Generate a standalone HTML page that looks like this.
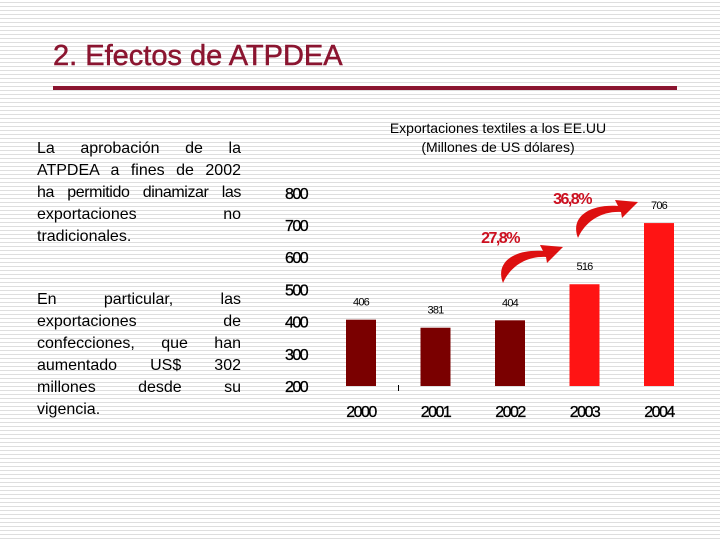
<!DOCTYPE html>
<html><head><meta charset="utf-8">
<style>
body{margin:0;width:720px;height:540px;overflow:hidden;position:relative;font-family:"Liberation Sans",sans-serif;
background:repeating-linear-gradient(to bottom,#ffffff 0,#ffffff 2px,#dedede 2px,#dedede 3px,#ffffff 3px,#ffffff 4px);}
.title{position:absolute;left:53px;top:40px;font-size:29px;color:#8b1530;-webkit-text-stroke:0.5px #8b1530;}
.rule{position:absolute;left:53px;top:86px;width:624px;height:4px;background:#8b1530;}
.txt{position:absolute;left:37px;width:204px;font-size:16px;line-height:22px;color:#000;}
.txt div{text-align:justify;text-align-last:justify;white-space:nowrap;}
.txt div.l{text-align-last:left;}
</style></head><body>
<div class="title">2. Efectos de ATPDEA</div>
<div class="rule"></div>
<div class="txt" style="top:138px">
<div>La aprobación de la</div><div>ATPDEA a fines de 2002</div><div style="letter-spacing:-0.4px">ha permitido dinamizar las</div><div>exportaciones no</div><div class="l">tradicionales.</div></div>
<div class="txt" style="top:289px">
<div>En particular, las</div><div>exportaciones de</div><div>confecciones, que han</div><div>aumentado US$ 302</div><div>millones desde su</div><div class="l">vigencia.</div></div>
<svg id="chart" width="720" height="540" style="position:absolute;left:0;top:0"></svg>
<script>
const categories=["2000","2001","2002","2003","2004"];
const values=[406,381,404,516,706];
const ticks=[200,300,400,500,600,700,800];
const growthLabels=["27,8%","36,8%"];
const NS="http://www.w3.org/2000/svg";
const svg=document.getElementById('chart');
const y=v=>386-(v-200)*0.322;
const x=i=>361+i*74.5;
function mk(t,a,txt){const e=document.createElementNS(NS,t);for(const k in a)e.setAttribute(k,a[k]);if(txt!==undefined)e.textContent=txt;svg.appendChild(e);return e;}
let e=mk('text',{x:498,y:133,'text-anchor':'middle','font-size':14,'font-family':'Liberation Sans, sans-serif'},'Exportaciones textiles a los EE.UU');


e=mk('text',{x:498,y:152,'text-anchor':'middle','font-size':14,'font-family':'Liberation Sans, sans-serif'},'(Millones de US dólares)');


ticks.forEach(t=>{const l=mk('text',{x:285,y:y(t)+6,'font-size':16,'letter-spacing':'-1.5','font-family':'Liberation Sans, sans-serif',stroke:'#000','stroke-width':0.3},t);

});
values.forEach((v,i)=>{
const r=mk('rect',{x:x(i)-15,y:y(v),width:30,height:386-y(v),fill:i<3?'#7a0000':'#ff1414'});


const vl=mk('text',{x:x(i),y:y(v)-14,'text-anchor':'middle','font-size':11,'letter-spacing':'-0.8','font-family':'Liberation Sans, sans-serif'},v);


const cl=mk('text',{x:x(i),y:417,'text-anchor':'middle','font-size':16,'letter-spacing':'-1.5','font-family':'Liberation Sans, sans-serif',stroke:'#000','stroke-width':0.3},categories[i]);


});
mk('rect',{x:398,y:385,width:1,height:6,fill:'#000'});
[[500,243],[572,204]].forEach((p,i)=>{
const t=mk('text',{x:p[0],y:p[1],'text-anchor':'middle','font-size':16,'font-weight':'bold','letter-spacing':'-1.5',fill:'#cc1020','font-family':'Liberation Sans, sans-serif'},growthLabels[i]);


});
[[503,283],[578,238]].forEach(p=>{
const a=p[0],b=p[1];
const g=mk('path',{d:`M${a} ${b} C ${a-8} ${b-20}, ${a+10} ${b-34}, ${a+40} ${b-32} L ${a+37} ${b-38} L ${a+60} ${b-36} L ${a+44} ${b-20} L ${a+43} ${b-26} C ${a+25} ${b-27}, ${a+8} ${b-18}, ${a} ${b} Z`,fill:'#dd1010'});


});
</script>
</body></html>
